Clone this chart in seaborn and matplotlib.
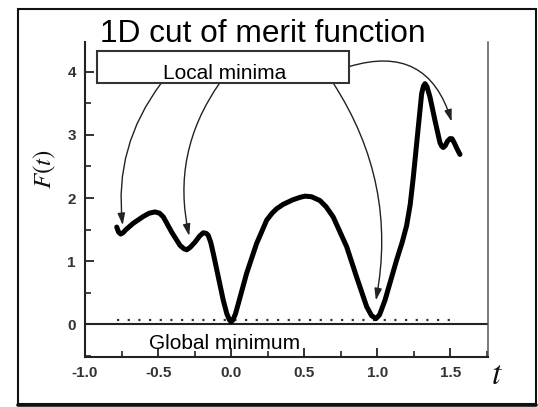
import numpy as np
import pandas as pd
import matplotlib
matplotlib.use("Agg")
import matplotlib.pyplot as plt
from matplotlib.patches import Rectangle
from matplotlib.lines import Line2D
from matplotlib.ticker import MultipleLocator, FixedLocator
import seaborn as sns

# ---- data ----
t_values = [-0.783, -0.77, -0.756, -0.74, -0.72, -0.67, -0.60, -0.56, -0.521, -0.49,
            -0.464, -0.407, -0.35, -0.325, -0.304, -0.28, -0.248, -0.215, -0.191, -0.17,
            -0.157, -0.14, -0.122, -0.088, -0.054, -0.03, -0.012, 0.0, 0.012, 0.03,
            0.049, 0.106, 0.174, 0.243, 0.28, 0.311, 0.356, 0.42, 0.47, 0.505,
            0.55, 0.607, 0.65, 0.698, 0.79, 0.858, 0.927, 0.96, 0.99, 1.015,
            1.052, 1.132, 1.17, 1.2, 1.225, 1.246, 1.28, 1.303, 1.315, 1.326,
            1.34, 1.36, 1.394, 1.428, 1.44, 1.451, 1.465, 1.48, 1.497, 1.51,
            1.525, 1.545, 1.565]
F_values = [1.54, 1.46, 1.43, 1.45, 1.50, 1.60, 1.71, 1.76, 1.78, 1.76,
            1.70, 1.46, 1.25, 1.20, 1.18, 1.22, 1.30, 1.40, 1.45, 1.44,
            1.41, 1.30, 1.12, 0.75, 0.38, 0.17, 0.07, 0.04, 0.07, 0.17,
            0.33, 0.81, 1.28, 1.65, 1.76, 1.83, 1.90, 1.97, 2.01, 2.03,
            2.02, 1.96, 1.86, 1.70, 1.23, 0.75, 0.28, 0.14, 0.09, 0.15,
            0.38, 1.02, 1.30, 1.56, 1.90, 2.33, 3.12, 3.65, 3.77, 3.81,
            3.76, 3.60, 3.23, 2.88, 2.82, 2.80, 2.83, 2.90, 2.94, 2.94,
            2.88, 2.78, 2.69]
level_y = 0.076
level_t = [-0.78, 1.50]
x_ticks = [-1.0, -0.5, 0.0, 0.5, 1.0, 1.5]
x_tick_labels = ["-1.0", "-0.5", "0.0", "0.5", "1.0", "1.5"]
y_ticks = [0, 1, 2, 3, 4]
y_tick_labels = ["0", "1", "2", "3", "4"]
title_text = "1D cut of merit function"
box_text = "Local minima"
global_text = "Global minimum"
# arrow starts (on the box) and targets (local minima)
arrow_starts = [(-0.478, 3.82), (-0.079, 3.82), (0.698, 3.82), (0.806, 4.08)]
arrow_ends = [(-0.742, 1.57), (-0.287, 1.40), (0.99, 0.38), (1.508, 3.21)]
arrow_rads = [0.2, 0.22, -0.2, -0.5]

df = pd.DataFrame({"t": t_values, "F": F_values})

sns.set_style("ticks")
plt.rcParams["font.family"] = ["Liberation Sans", "DejaVu Sans"]

W, H = 538, 407
fig = plt.figure(figsize=(W / 100, H / 100), dpi=100)
ax = fig.add_axes([85 / W, 1 - 356.7 / H, (488 - 85) / W, (356.7 - 42) / H])

sns.lineplot(data=df, x="t", y="F", ax=ax, color="black", linewidth=3.6,
             sort=False, estimator=None)
for ln in ax.lines:
    ln.set_solid_capstyle("round")
    ln.set_solid_joinstyle("round")

ax.axhline(0, color="#222222", lw=1.5, zorder=1)
ax.plot(level_t, [level_y, level_y], color="#333333", lw=1.6,
        linestyle=(0, (1, 3.8)), zorder=1)

ax.set_xlim(-1.0, 1.757)
ax.set_ylim(-0.512, 4.47)

ax.xaxis.set_major_locator(FixedLocator(x_ticks))
ax.set_xticklabels(x_tick_labels)
ax.xaxis.set_minor_locator(MultipleLocator(0.25))
ax.yaxis.set_major_locator(FixedLocator(y_ticks))
ax.set_yticklabels(y_tick_labels)
ax.yaxis.set_minor_locator(MultipleLocator(0.5))

ax.tick_params(axis="both", which="major", direction="in", length=6.5, width=1.3,
               color="#222222", labelsize=11, labelcolor="#333333", pad=6.5)
ax.tick_params(axis="both", which="minor", direction="in", length=4, width=1.2,
               color="#222222")
for lab in ax.get_xticklabels() + ax.get_yticklabels():
    lab.set_fontweight("bold")

ax.spines["top"].set_visible(False)
for s in ["left", "bottom"]:
    ax.spines[s].set_linewidth(1.5)
    ax.spines[s].set_color("#222222")
ax.spines["right"].set_linewidth(1.1)
ax.spines["right"].set_color("#555555")
ax.set_xlabel("")
ax.set_ylabel("")

# Local minima box
ax.add_patch(Rectangle((-0.918, 3.82), 1.724, 0.50, facecolor="white",
                       edgecolor="#333333", lw=1.5, zorder=5))
ax.text(-0.047, 3.89, box_text, ha="center", va="baseline", fontsize=15,
        color="black", zorder=6)
ax.text(-0.042, -0.384, global_text, ha="center", va="baseline", fontsize=15,
        color="black", zorder=6)

for (x0, y0), (x1, y1), rad in zip(arrow_starts, arrow_ends, arrow_rads):
    ax.annotate("", xy=(x1, y1), xytext=(x0, y0),
                arrowprops=dict(arrowstyle="-|>,head_length=0.7,head_width=0.22",
                                connectionstyle=f"arc3,rad={rad}",
                                lw=1.0, color="#222222", shrinkA=0, shrinkB=0,
                                mutation_scale=10),
                zorder=4)

# title and axis labels
fig.text(262.4 / W, 1 - 41.7 / H, title_text, ha="center", va="baseline",
         fontsize=22.8, color="black")
fig.text(45 / W, 1 - 169 / H, "$F(t)$", ha="center", va="center", rotation=90,
         fontsize=18, color="#111111", math_fontfamily="stix")
fig.text(497 / W, 1 - 376 / H, "$t$", ha="center", va="center",
         fontsize=24, color="#111111", math_fontfamily="stix")

# outer frame with heavier bottom edge
fig.patches.append(Rectangle((18 / W, 1 - 403.5 / H), (535.5 - 18) / W, (403.5 - 9) / H,
                             transform=fig.transFigure, fill=False,
                             edgecolor="#111111", lw=1.5))
fig.lines.append(Line2D([18 / W, 535.5 / W], [1 - 404.5 / H, 1 - 404.5 / H],
                        transform=fig.transFigure, color="#111111", lw=2.6))

fig.savefig("out.png", dpi=100)
